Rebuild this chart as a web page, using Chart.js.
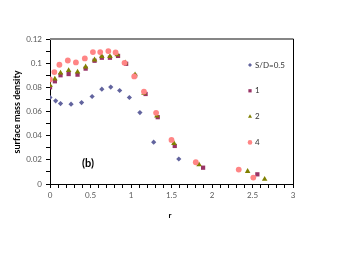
<!DOCTYPE html>
<html>
<head>
<meta charset="utf-8">
<script src="https://cdn.jsdelivr.net/npm/chart.js@4/dist/chart.umd.min.js"></script>
<style>
html,body{margin:0;padding:0;background:#fff;}
#wrap{position:relative;width:340px;height:255px;}
</style>
</head>
<body>
<div id="wrap"><canvas id="c" width="340" height="255"></canvas></div>
<script>
// ---- data ----
const seriesNames = ["S/D=0.5", "1", "2", "4"];

const r05 = [0, 0.07, 0.13, 0.26, 0.39, 0.52, 0.64, 0.75, 0.86, 0.98, 1.11, 1.28, 1.59];
const y05 = [0.0716, 0.0688, 0.0666, 0.0661, 0.0674, 0.0724, 0.0785, 0.0802, 0.0774, 0.0716, 0.0591, 0.0346, 0.0207];

const r1 = [0, 0.06, 0.13, 0.23, 0.34, 0.44, 0.55, 0.64, 0.74, 0.84, 0.94, 1.05, 1.18, 1.33, 1.54, 1.89, 2.56];
const y1 = [0.0800, 0.0850, 0.0900, 0.0910, 0.0905, 0.0955, 0.1020, 0.1045, 0.1045, 0.1060, 0.0995, 0.0895, 0.0745, 0.0553, 0.0315, 0.0135, 0.0080];

const r2 = [0, 0.06, 0.13, 0.23, 0.34, 0.44, 0.55, 0.64, 0.74, 0.83, 0.93, 1.05, 1.16, 1.32, 1.53, 1.84, 2.44, 2.65];
const y2 = [0.0815, 0.0870, 0.0920, 0.0940, 0.0927, 0.0970, 0.1028, 0.1056, 0.1056, 0.1070, 0.1003, 0.0905, 0.0752, 0.0564, 0.0337, 0.0160, 0.0105, 0.0040];

const r4 = [0, 0.054, 0.116, 0.22, 0.32, 0.43, 0.53, 0.62, 0.72, 0.81, 0.92, 1.04, 1.16, 1.31, 1.50, 1.80, 2.33, 2.51];
const y4 = [0.0865, 0.0926, 0.0987, 0.1022, 0.1006, 0.1039, 0.1092, 0.1092, 0.1100, 0.1089, 0.1003, 0.0890, 0.0765, 0.0589, 0.0365, 0.0180, 0.0119, 0.0053];

const xTickLabels = ["0", "0.5", "1", "1.5", "2", "2.5", "3"];
const yTickLabels = ["0", "0.02", "0.04", "0.06", "0.08", "0.1", "0.12"];
const panelLabel = "(b)";
const xTitle = "r";
const yTitle = "surface mass density";

// ---- build chart ----
function pts(xs, ys){ return xs.map((x,i)=>({x:x, y:ys[i]})); }

const styles = [
  {color:"#62649e", shape:"rectRot", r:2.6, lr:2.0, order:4},
  {color:"#993366", shape:"rect", r:3.0, lr:2.3, order:3},
  {color:"#808000", shape:"triangle", r:3.2, lr:2.3, order:2},
  {color:"#ff8585", shape:"circle", r:2.9, lr:2.3, order:1}
];
const dataX = [r05, r1, r2, r4];
const dataY = [y05, y1, y2, y4];

const datasets = seriesNames.map((n,i)=>({
  label:n,
  data:pts(dataX[i], dataY[i]),
  pointStyle:styles[i].shape,
  pointRadius:styles[i].r,
  pointBackgroundColor:styles[i].color,
  pointBorderColor:styles[i].color,
  pointBorderWidth:0,
  showLine:false,
  order:styles[i].order
}));

const FONT = "Lato, 'DejaVu Sans', sans-serif";

function near(v, step){ return Math.abs(v/step - Math.round(v/step)) < 1e-6; }

const decor = {
  id:"decor",
  beforeDatasetsDraw(chart){
    const a = chart.chartArea, ctx = chart.ctx;
    ctx.save();
    ctx.strokeStyle = "#868686"; ctx.lineWidth = 2;
    ctx.beginPath(); ctx.moveTo(a.left, a.top); ctx.lineTo(a.right+0.5, a.top); ctx.stroke();
    ctx.strokeStyle = "#000"; ctx.lineWidth = 1;
    ctx.beginPath(); ctx.moveTo(Math.round(a.right)+0.5, a.top); ctx.lineTo(Math.round(a.right)+0.5, a.bottom); ctx.stroke();
    ctx.restore();
  },
  afterDraw(chart){
    const ctx = chart.ctx;
    ctx.save();
    // axis titles
    ctx.fillStyle = "#000";
    ctx.font = "bold 8px " + FONT;
    ctx.textAlign = "center"; ctx.textBaseline = "middle";
    ctx.fillText(xTitle, 170, 215);
    ctx.save();
    ctx.translate(17, 112);
    ctx.rotate(-Math.PI/2);
    ctx.font = "bold 9px " + FONT;
    ctx.fillText(yTitle, 0, 0);
    ctx.restore();
    // panel label
    ctx.font = "bold 11px " + FONT;
    ctx.fillText(panelLabel, 88, 163);
    // legend
    const lx = 250, ly0 = 65, dy = 25.8;
    seriesNames.forEach((n,i)=>{
      const y = ly0 + i*dy;
      ctx.fillStyle = styles[i].color; ctx.strokeStyle = styles[i].color;
      Chart.helpers.drawPoint(ctx, {pointStyle:styles[i].shape, radius:styles[i].lr, borderWidth:0}, lx, y);
      ctx.fillStyle = "#333";
      ctx.font = "8px " + FONT;
      ctx.textAlign = "left";
      ctx.fillText(n, lx+5, y);
    });
    ctx.restore();
  }
};

new Chart(document.getElementById("c"), {
  type:"scatter",
  data:{datasets},
  options:{
    responsive:false,
    animation:false,
    events:[],
    layout:{padding:{left:0, top:39, right:47, bottom:0}},
    plugins:{legend:{display:false}, tooltip:{enabled:false}},
    scales:{
      x:{
        type:"linear", min:0, max:3,
        afterFit(s){ s.height = 71; },
        ticks:{stepSize:0.1, autoSkip:false, maxRotation:0, padding:3, color:"#595959",
          font:{family:FONT, size:8},
          callback(v){ if(!near(v,0.5)) return ""; return xTickLabels[Math.round(v/0.5)]; }},
        grid:{drawOnChartArea:false, tickLength:4, color:"#000", tickColor:"#000"},
        border:{color:"#000", width:1}
      },
      y:{
        type:"linear", min:0, max:0.12,
        afterFit(s){ s.width = 50; },
        ticks:{stepSize:0.01, autoSkip:false, padding:4, color:"#595959",
          font:{family:FONT, size:8},
          callback(v){ if(!near(v,0.02)) return ""; return yTickLabels[Math.round(v/0.02)]; }},
        grid:{drawOnChartArea:false, tickLength:4, color:"#000", tickColor:"#000"},
        border:{color:"#000", width:1}
      }
    }
  },
  plugins:[decor]
});
</script>
</body>
</html>
